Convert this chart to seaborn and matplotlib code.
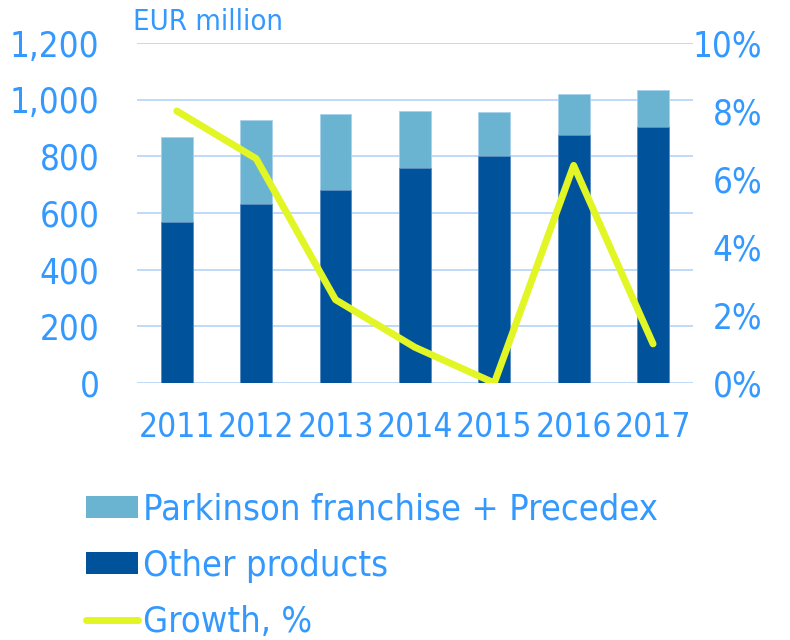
import numpy as np
import pandas as pd
import matplotlib.pyplot as plt
import seaborn as sb
from matplotlib.patches import Patch
from matplotlib.lines import Line2D

years = ['2011', '2012', '2013', '2014', '2015', '2016', '2017']
other_products = [567, 631, 682, 758, 800, 874, 904]
total_sales = [868, 927, 949, 959, 958, 1019, 1033]
growth_pct = [8.0, 6.6, 2.45, 1.05, 0.0, 6.4, 1.15]

left_ticks = [0, 200, 400, 600, 800, 1000, 1200]
right_ticks = [0, 2, 4, 6, 8, 10]

TXT = '#3399FF'
DARK = '#00539B'
LIGHT = '#6AB4D2'
LIME = '#E2F525'
GRID = '#BFDBF7'

sb.set_style('white')
plt.rcParams['font.family'] = ['DejaVu Sans']
plt.rcParams['font.stretch'] = 'condensed'

df = pd.DataFrame({'year': years, 'other': other_products, 'total': total_sales,
                   'growth': growth_pct})

fig = plt.figure(figsize=(7.9, 6.4), dpi=100)
ax = fig.add_axes([0.1735, 0.4016, 0.7034, 0.5312])

# light bar = total, dark bar drawn on top = other products
sb.barplot(data=df, x='year', y='total', color=LIGHT, width=0.4, saturation=1,
           edgecolor='#A9D3EC', linewidth=0.6, ax=ax, zorder=2)
sb.barplot(data=df, x='year', y='other', color=DARK, width=0.4, saturation=1,
           edgecolor='#5E8FC4', linewidth=0.6, ax=ax, zorder=3)

ax.set_xlim(-0.5, 6.5)
ax.set_ylim(0, 1200)
ax.set_yticks(left_ticks)
ax.set_yticklabels(['{:,}'.format(t) for t in left_ticks])
ax.yaxis.grid(True, color=GRID, linewidth=1.4, zorder=0)
ax.set_axisbelow(True)
for s in ax.spines.values():
    s.set_visible(False)
ax.set_xlabel('')
ax.set_ylabel('')
ax.tick_params(axis='y', length=0, pad=27, labelsize=25, labelcolor=TXT)
ax.tick_params(axis='x', length=0, pad=20, labelsize=24, labelcolor=TXT)

ax2 = ax.twinx()
df['pos'] = np.arange(len(years))
sb.lineplot(data=df, x='pos', y='growth', color=LIME, linewidth=5,
            solid_capstyle='round', ax=ax2, zorder=5)
ax2.set_ylim(0, 10)
ax2.set_xlim(-0.5, 6.5)
ax2.set_yticks(right_ticks)
ax2.set_yticklabels(['%d%%' % t for t in right_ticks])
for lab in ax2.get_yticklabels():
    lab.set_horizontalalignment('right')
ax2.tick_params(axis='y', length=0, pad=50, labelsize=25, labelcolor=TXT)
ax2.set_ylabel('')
ax2.set_xlabel('')
for s in ax2.spines.values():
    s.set_visible(False)

fig.text(0.168, 0.965, 'EUR million', color=TXT, fontsize=21, va='center', ha='left')

handles = [Patch(facecolor=LIGHT, edgecolor='none'),
           Patch(facecolor=DARK, edgecolor='none'),
           Line2D([0], [0], color=LIME, linewidth=5, solid_capstyle='round')]
labels = ['Parkinson franchise + Precedex', 'Other products', 'Growth, %']
leg = fig.legend(handles, labels, loc='upper left', bbox_to_anchor=(0.109, 0.2305),
                 frameon=False, fontsize=26, handlelength=1.44, handleheight=0.55,
                 handletextpad=0.14, labelspacing=0.62, borderaxespad=0, borderpad=0)
for t in leg.get_texts():
    t.set_color(TXT)

plt.savefig('out.png', dpi=100)
